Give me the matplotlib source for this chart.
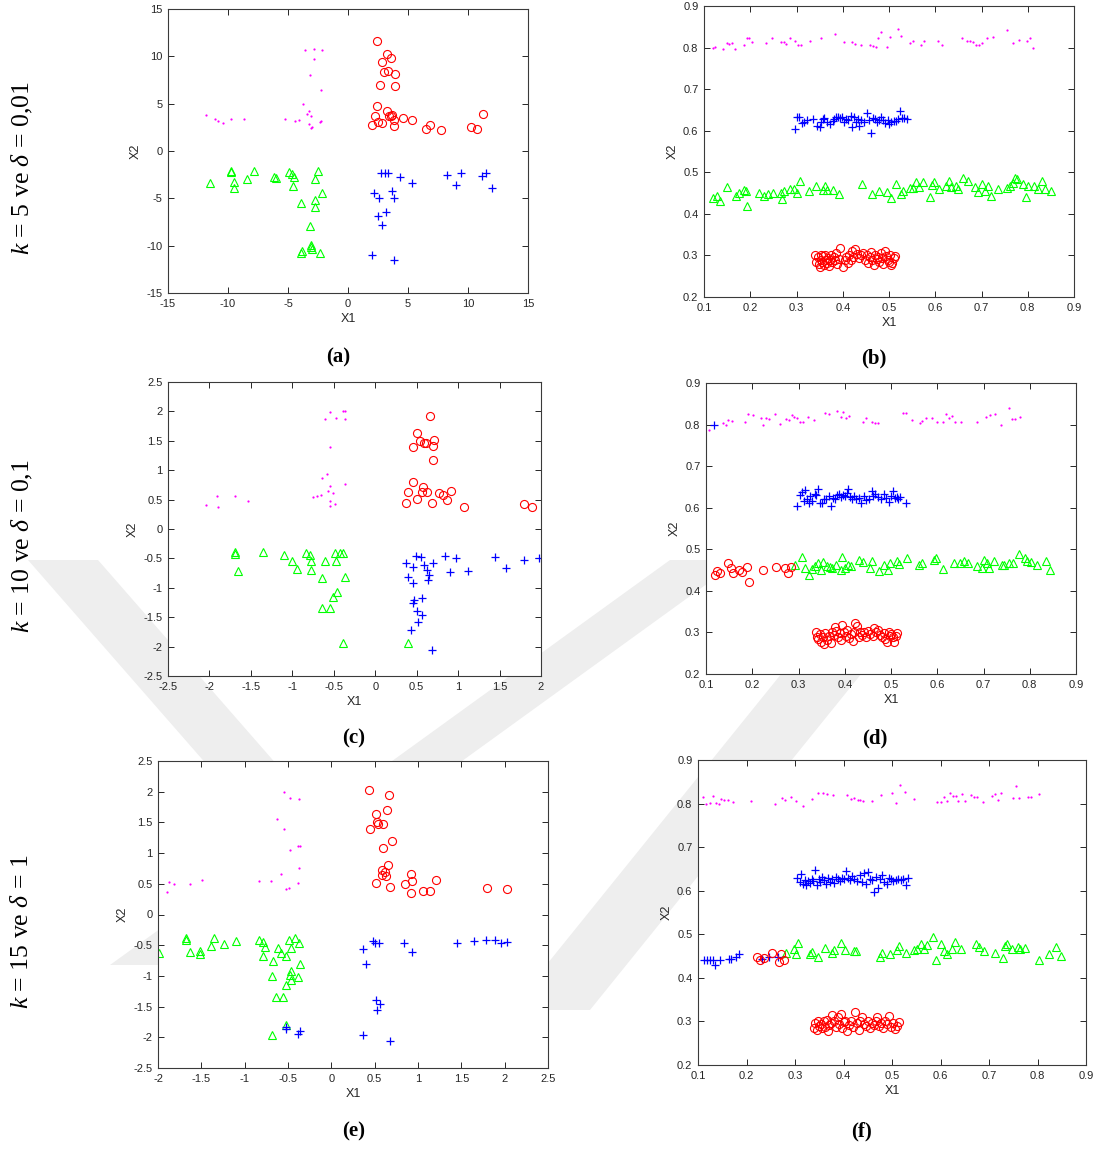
"""Six-panel scatter of four clusters for three (k, delta) settings."""

import matplotlib
matplotlib.use('Agg')
import matplotlib.pyplot as plt
from matplotlib.patches import Polygon

# ---- panel (a): k=5, delta=0.01, original scale ----
a_mag_x = [-11.8, -11.06, -10.83, -10.44, -9.78, -8.64, -5.22, -4.42, -4.06, -3.75,
           -3.56, -2.81, -2.17, -2.83, -3.19, -2.25, -3.28, -3.39, -3.06, -3.28,
           -3.0, -3.08, -2.31, -2.22]
a_mag_y = [3.84, 3.35, 3.17, 2.96, 3.38, 3.38, 3.42, 3.2, 3.24, 5.0,
           10.7, 10.81, 10.7, 9.68, 8.03, 6.41, 4.26, 3.87, 3.66, 2.85,
           2.5, 2.39, 3.1, 3.2]
a_red_x = [2.42, 3.25, 3.58, 2.86, 3.33, 2.97, 3.94, 2.69, 3.92, 2.44, 3.22, 2.22,
           3.42, 3.67, 3.56, 3.81, 2.5, 2.86, 2.0, 3.83, 4.61, 5.36, 6.47, 6.81,
           7.78, 10.25, 10.75, 11.22]
a_red_y = [11.58, 10.25, 9.82, 9.37, 8.49, 8.38, 8.13, 6.97, 6.87, 4.72, 4.23, 3.70,
           3.73, 3.8, 3.66, 3.24, 3.06, 2.99, 2.71, 2.68, 3.45, 3.27, 2.29, 2.71,
           2.22, 2.57, 2.29, 3.91]
a_grn_x = [-11.53, -9.72, -9.72, -9.47, -9.53, -8.39, -7.86, -6.14, -5.97, -4.94,
           -4.67, -4.53, -4.58, -3.94, -2.78, -2.53, -2.78, -2.75, -2.17, -3.14,
           -3.08, -3.06, -3.03, -3.94, -3.86, -2.36]
a_grn_y = [-3.42, -2.08, -2.25, -3.31, -3.91, -2.96, -2.08, -2.71, -2.89, -2.22,
           -2.46, -2.78, -3.66, -5.53, -2.92, -2.11, -5.14, -5.88, -4.44, -7.89,
           -9.89, -10.1, -10.35, -10.77, -10.56, -10.77]
a_blu_x = [2.72, 3.11, 3.31, 4.31, 5.31, 2.17, 2.58, 3.69, 3.86, 3.19, 2.5, 2.83,
           2.03, 3.83, 8.28, 9.42, 8.97, 11.17, 11.5, 11.97]
a_blu_y = [-2.32, -2.36, -2.32, -2.75, -3.38, -4.44, -4.96, -4.23, -4.96, -6.41,
           -6.9, -7.78, -10.99, -11.48, -2.57, -2.32, -3.56, -2.61, -2.36, -3.91]

# ---- panel (b): k=5, delta=0.01, normalised ----
b_mag_x = [0.119, 0.124, 0.142, 0.149, 0.154, 0.161, 0.167, 0.186, 0.192, 0.198,
           0.204, 0.235, 0.247, 0.266, 0.272, 0.278, 0.285, 0.297, 0.303, 0.309,
           0.329, 0.353, 0.383, 0.402, 0.421, 0.427, 0.440, 0.458, 0.465, 0.471,
           0.477, 0.483, 0.496, 0.502, 0.520, 0.527, 0.545, 0.552, 0.570, 0.576,
           0.607, 0.614, 0.658, 0.669, 0.676, 0.681, 0.688, 0.694, 0.700, 0.711,
           0.724, 0.755, 0.768, 0.780, 0.799, 0.804, 0.811]
b_mag_y = [0.799, 0.802, 0.797, 0.812, 0.809, 0.810, 0.797, 0.805, 0.822, 0.822,
           0.814, 0.812, 0.823, 0.813, 0.813, 0.809, 0.822, 0.817, 0.807, 0.807,
           0.816, 0.822, 0.832, 0.814, 0.814, 0.809, 0.806, 0.806, 0.804, 0.802,
           0.822, 0.838, 0.802, 0.825, 0.845, 0.827, 0.812, 0.817, 0.807, 0.817,
           0.816, 0.807, 0.822, 0.817, 0.816, 0.814, 0.806, 0.805, 0.810, 0.822,
           0.826, 0.842, 0.812, 0.818, 0.815, 0.823, 0.800]
b_blu_x = [0.297, 0.301, 0.305, 0.312, 0.316, 0.322, 0.335, 0.345, 0.350, 0.352,
           0.357, 0.360, 0.365, 0.372, 0.378, 0.381, 0.386, 0.390, 0.395, 0.398,
           0.402, 0.407, 0.412, 0.418, 0.421, 0.425, 0.428, 0.432, 0.436, 0.440,
           0.445, 0.452, 0.456, 0.462, 0.466, 0.470, 0.474, 0.478, 0.483, 0.488,
           0.492, 0.497, 0.501, 0.505, 0.510, 0.515, 0.520, 0.523, 0.528, 0.533,
           0.538]
b_blu_y = [0.604, 0.633, 0.632, 0.618, 0.620, 0.626, 0.627, 0.612, 0.609, 0.622,
           0.628, 0.631, 0.621, 0.615, 0.624, 0.628, 0.633, 0.632, 0.631, 0.633,
           0.622, 0.628, 0.625, 0.635, 0.610, 0.633, 0.620, 0.629, 0.612, 0.625,
           0.621, 0.643, 0.625, 0.595, 0.630, 0.627, 0.620, 0.625, 0.632, 0.625,
           0.619, 0.625, 0.617, 0.622, 0.624, 0.624, 0.627, 0.648, 0.630, 0.630,
           0.628]
b_grn_x = [0.119, 0.129, 0.135, 0.150, 0.170, 0.176, 0.186, 0.190, 0.194, 0.219,
           0.229, 0.238, 0.249, 0.268, 0.267, 0.273, 0.285, 0.294, 0.301, 0.308,
           0.327, 0.342, 0.358, 0.362, 0.365, 0.378, 0.392, 0.441, 0.464, 0.479,
           0.495, 0.504, 0.515, 0.525, 0.531, 0.545, 0.552, 0.558, 0.564, 0.573,
           0.588, 0.594, 0.597, 0.608, 0.624, 0.629, 0.633, 0.645, 0.649, 0.659,
           0.670, 0.687, 0.693, 0.701, 0.707, 0.714, 0.721, 0.736, 0.756, 0.762,
           0.769, 0.772, 0.776, 0.789, 0.796, 0.801, 0.814, 0.822, 0.830, 0.837,
           0.851]
b_grn_y = [0.439, 0.443, 0.430, 0.465, 0.443, 0.451, 0.457, 0.456, 0.420, 0.451,
           0.443, 0.448, 0.449, 0.436, 0.450, 0.455, 0.459, 0.459, 0.451, 0.479,
           0.454, 0.467, 0.457, 0.468, 0.457, 0.457, 0.448, 0.471, 0.447, 0.456,
           0.452, 0.438, 0.472, 0.448, 0.456, 0.463, 0.463, 0.476, 0.465, 0.476,
           0.440, 0.469, 0.476, 0.459, 0.468, 0.480, 0.464, 0.467, 0.459, 0.486,
           0.478, 0.465, 0.453, 0.472, 0.454, 0.467, 0.442, 0.459, 0.463, 0.467,
           0.475, 0.487, 0.484, 0.471, 0.441, 0.468, 0.467, 0.459, 0.480, 0.459,
           0.456]
b_red_x = [0.340, 0.342, 0.346, 0.349, 0.350, 0.352, 0.354, 0.356, 0.358, 0.360,
           0.362, 0.364, 0.366, 0.368, 0.370, 0.372, 0.374, 0.377, 0.380, 0.383,
           0.386, 0.388, 0.392, 0.395, 0.400, 0.404, 0.408, 0.411, 0.414, 0.417,
           0.420, 0.423, 0.427, 0.431, 0.435, 0.440, 0.444, 0.448, 0.452, 0.455,
           0.458, 0.461, 0.464, 0.467, 0.470, 0.473, 0.476, 0.479, 0.482, 0.485,
           0.488, 0.491, 0.494, 0.497, 0.500, 0.503, 0.505, 0.507, 0.510, 0.514]
b_red_y = [0.300, 0.284, 0.296, 0.280, 0.273, 0.302, 0.290, 0.284, 0.298, 0.276,
           0.301, 0.289, 0.282, 0.295, 0.275, 0.290, 0.300, 0.283, 0.296, 0.288,
           0.306, 0.280, 0.292, 0.318, 0.272, 0.288, 0.296, 0.281, 0.302, 0.290,
           0.310, 0.296, 0.316, 0.304, 0.294, 0.300, 0.305, 0.290, 0.302, 0.282,
           0.296, 0.308, 0.290, 0.278, 0.302, 0.292, 0.296, 0.285, 0.306, 0.294,
           0.280, 0.310, 0.298, 0.290, 0.284, 0.302, 0.276, 0.282, 0.294, 0.298]

# ---- panel (c): k=10, delta=0.1, original scale ----
c_mag_x = [-2.04, -1.91, -1.90, -1.69, -1.53, -0.61, -0.55, -0.47, -0.39, -0.37,
           -0.36, -0.55, -0.58, -0.64, -0.55, -0.57, -0.51, -0.75, -0.70, -0.65,
           -0.55, -0.55, -0.49, -0.37]
c_mag_y = [0.41, 0.56, 0.37, 0.56, 0.48, 1.87, 1.99, 1.88, 2.01, 2.01,
           1.87, 1.39, 0.94, 0.86, 0.73, 0.65, 0.62, 0.54, 0.56, 0.58,
           0.48, 0.39, 0.43, 0.76]
c_red_x = [0.66, 0.51, 0.54, 0.59, 0.61, 0.71, 0.70, 0.46, 0.70, 0.45, 0.40, 0.58,
           0.57, 0.63, 0.77, 0.82, 0.92, 0.51, 0.37, 0.68, 0.86, 1.07, 1.80, 1.89]
c_red_y = [1.93, 1.63, 1.49, 1.47, 1.47, 1.52, 1.41, 1.39, 1.18, 0.80, 0.63, 0.72,
           0.63, 0.63, 0.62, 0.58, 0.65, 0.51, 0.45, 0.44, 0.49, 0.38, 0.43, 0.38]
c_grn_x = [-1.69, -1.69, -1.65, -1.35, -1.10, -1.01, -0.94, -0.84, -0.79, -0.77,
           -0.78, -0.61, -0.64, -0.49, -0.47, -0.42, -0.39, -0.36, -0.46, -0.51,
           -0.64, -0.55, -0.39, 0.40]
c_grn_y = [-0.39, -0.43, -0.72, -0.39, -0.44, -0.54, -0.68, -0.41, -0.45, -0.54,
           -0.69, -0.55, -0.84, -0.41, -0.54, -0.40, -0.41, -0.82, -1.07, -1.16,
           -1.34, -1.34, -1.94, -1.94]
c_blu_x = [0.37, 0.49, 0.55, 0.45, 0.59, 0.70, 0.63, 0.65, 0.64, 0.40, 0.46, 0.84,
           0.98, 0.90, 1.12, 1.45, 1.58, 1.79, 1.97, 0.47, 0.45, 0.57, 0.50, 0.56,
           0.52, 0.43, 0.68]
c_blu_y = [-0.57, -0.46, -0.48, -0.65, -0.62, -0.58, -0.70, -0.78, -0.86, -0.82,
           -0.91, -0.46, -0.49, -0.73, -0.72, -0.48, -0.66, -0.53, -0.49, -1.21,
           -1.25, -1.17, -1.40, -1.47, -1.58, -1.72, -2.06]

# ---- panel (d): k=10, delta=0.1, normalised ----
d_mag_x = [0.106, 0.136, 0.143, 0.148, 0.156, 0.185, 0.191, 0.201, 0.218, 0.224,
           0.229, 0.236, 0.249, 0.260, 0.272, 0.279, 0.285, 0.290, 0.296, 0.303,
           0.310, 0.321, 0.334, 0.358, 0.366, 0.383, 0.391, 0.396, 0.402, 0.409,
           0.439, 0.446, 0.458, 0.465, 0.471, 0.525, 0.532, 0.545, 0.563, 0.568,
           0.575, 0.588, 0.600, 0.612, 0.619, 0.625, 0.632, 0.638, 0.651, 0.687,
           0.706, 0.713, 0.725, 0.737, 0.756, 0.762, 0.768, 0.779]
d_mag_y = [0.788, 0.804, 0.798, 0.811, 0.809, 0.806, 0.825, 0.824, 0.817, 0.800,
           0.815, 0.813, 0.825, 0.801, 0.814, 0.810, 0.823, 0.819, 0.817, 0.807,
           0.807, 0.818, 0.812, 0.828, 0.826, 0.833, 0.818, 0.831, 0.815, 0.821,
           0.806, 0.816, 0.807, 0.804, 0.804, 0.829, 0.829, 0.812, 0.804, 0.808,
           0.817, 0.815, 0.805, 0.807, 0.826, 0.815, 0.820, 0.807, 0.807, 0.806,
           0.818, 0.823, 0.826, 0.799, 0.841, 0.813, 0.813, 0.818]
d_blu_x = [0.117, 0.297, 0.303, 0.308, 0.312, 0.315, 0.318, 0.322, 0.325, 0.330,
           0.335, 0.338, 0.342, 0.346, 0.350, 0.355, 0.360, 0.365, 0.370, 0.374,
           0.378, 0.383, 0.388, 0.392, 0.396, 0.400, 0.404, 0.408, 0.412, 0.416,
           0.421, 0.425, 0.430, 0.436, 0.441, 0.446, 0.452, 0.458, 0.462, 0.466,
           0.472, 0.478, 0.484, 0.490, 0.496, 0.501, 0.505, 0.508, 0.512, 0.516,
           0.520, 0.533]
d_blu_y = [0.800, 0.604, 0.631, 0.638, 0.615, 0.642, 0.622, 0.611, 0.628, 0.617,
           0.634, 0.630, 0.646, 0.612, 0.611, 0.621, 0.620, 0.627, 0.604, 0.624,
           0.622, 0.630, 0.632, 0.625, 0.631, 0.628, 0.635, 0.645, 0.625, 0.621,
           0.628, 0.620, 0.624, 0.612, 0.627, 0.618, 0.622, 0.640, 0.628, 0.632,
           0.626, 0.620, 0.634, 0.624, 0.614, 0.628, 0.640, 0.623, 0.626, 0.622,
           0.626, 0.612]
d_grn_x = [0.292, 0.308, 0.315, 0.323, 0.329, 0.336, 0.342, 0.348, 0.353, 0.361,
           0.368, 0.373, 0.380, 0.391, 0.395, 0.401, 0.408, 0.413, 0.430, 0.440,
           0.455, 0.459, 0.473, 0.484, 0.493, 0.498, 0.514, 0.518, 0.535, 0.561,
           0.568, 0.593, 0.597, 0.613, 0.637, 0.649, 0.657, 0.667, 0.685, 0.696,
           0.701, 0.707, 0.712, 0.723, 0.739, 0.745, 0.756, 0.763, 0.776, 0.790,
           0.795, 0.803, 0.816, 0.835, 0.844]
d_grn_y = [0.461, 0.482, 0.454, 0.437, 0.453, 0.459, 0.467, 0.449, 0.470, 0.459,
           0.457, 0.454, 0.463, 0.450, 0.482, 0.456, 0.463, 0.460, 0.475, 0.469,
           0.456, 0.472, 0.448, 0.461, 0.450, 0.466, 0.473, 0.464, 0.478, 0.463,
           0.466, 0.474, 0.479, 0.452, 0.466, 0.466, 0.471, 0.466, 0.459, 0.455,
           0.474, 0.466, 0.455, 0.472, 0.461, 0.463, 0.466, 0.466, 0.488, 0.479,
           0.472, 0.469, 0.463, 0.471, 0.450]
d_red_x = [0.119, 0.124, 0.130, 0.148, 0.153, 0.158, 0.172, 0.177, 0.188, 0.193,
           0.223, 0.252, 0.270, 0.277, 0.283,
           0.337, 0.340, 0.343, 0.346, 0.349, 0.352, 0.355, 0.358, 0.362, 0.366,
           0.370, 0.373, 0.376, 0.379, 0.382, 0.386, 0.389, 0.392, 0.395, 0.398,
           0.402, 0.405, 0.409, 0.413, 0.417, 0.420, 0.423, 0.426, 0.430, 0.434,
           0.438, 0.442, 0.446, 0.451, 0.455, 0.460, 0.464, 0.468, 0.472, 0.476,
           0.480, 0.484, 0.488, 0.492, 0.495, 0.498, 0.501, 0.504, 0.507, 0.510,
           0.514]
d_red_y = [0.439, 0.447, 0.442, 0.467, 0.455, 0.442, 0.450, 0.446, 0.457, 0.421,
           0.449, 0.457, 0.455, 0.444, 0.458,
           0.300, 0.290, 0.284, 0.296, 0.276, 0.288, 0.272, 0.298, 0.282, 0.292,
           0.275, 0.300, 0.294, 0.312, 0.304, 0.288, 0.298, 0.282, 0.318, 0.300,
           0.292, 0.306, 0.286, 0.296, 0.280, 0.300, 0.322, 0.316, 0.290, 0.302,
           0.294, 0.300, 0.288, 0.304, 0.296, 0.292, 0.310, 0.300, 0.306, 0.294,
           0.288, 0.298, 0.284, 0.278, 0.300, 0.292, 0.296, 0.288, 0.276, 0.292,
           0.298]

# ---- panel (e): k=15, delta=1, original scale ----
e_mag_x = [-1.90, -1.87, -1.81, -1.63, -1.49, -0.84, -0.70, -0.58, -0.52, -0.49,
           -0.39, -0.37, -0.48, -0.38, -0.36, -0.55, -0.63, -0.55, -0.48, -0.37]
e_mag_y = [0.37, 0.53, 0.50, 0.49, 0.57, 0.55, 0.55, 0.66, 0.41, 0.43,
           0.52, 0.76, 1.05, 1.11, 1.11, 1.40, 1.55, 2.00, 1.89, 1.88]
e_red_x = [0.43, 0.66, 0.51, 0.64, 0.53, 0.54, 0.60, 0.45, 0.70, 0.60, 0.65, 0.58,
           0.62, 0.58, 0.63, 0.51, 0.68, 0.85, 0.92, 0.93, 0.92, 1.06, 1.14, 1.21,
           1.80, 2.03]
e_red_y = [2.03, 1.94, 1.63, 1.71, 1.50, 1.47, 1.48, 1.39, 1.19, 1.08, 0.80, 0.72,
           0.69, 0.64, 0.62, 0.52, 0.45, 0.49, 0.66, 0.54, 0.35, 0.39, 0.39, 0.57,
           0.43, 0.42]
e_grn_x = [-1.99, -1.68, -1.68, -1.63, -1.52, -1.51, -1.39, -1.35, -1.24, -1.10,
           -0.84, -0.79, -0.77, -0.79, -0.67, -0.62, -0.58, -0.52, -0.49, -0.42,
           -0.46, -0.37, -0.36, -0.68, -0.47, -0.48, -0.46, -0.39, -0.52, -0.64,
           -0.56, -0.52, -0.68]
e_grn_y = [-0.62, -0.38, -0.42, -0.61, -0.59, -0.65, -0.51, -0.38, -0.48, -0.43,
           -0.42, -0.44, -0.53, -0.67, -0.75, -0.55, -0.62, -0.67, -0.41, -0.39,
           -0.54, -0.47, -0.81, -1.00, -0.92, -0.98, -1.06, -1.01, -1.15, -1.34,
           -1.34, -1.80, -1.96]
e_blu_x = [0.37, 0.48, 0.50, 0.55, 0.84, 0.93, 0.40, 1.45, 1.65, 1.79, 1.89, 1.96,
           2.03, 0.51, 0.56, 0.53, 0.37, 0.68, -0.52, -0.52, -0.39, -0.36]
e_blu_y = [-0.57, -0.43, -0.46, -0.47, -0.46, -0.61, -0.81, -0.47, -0.43, -0.41,
           -0.42, -0.47, -0.45, -1.39, -1.46, -1.56, -1.97, -2.06, -1.84, -1.87,
           -1.95, -1.90]

# ---- panel (f): k=15, delta=1, normalised ----
f_mag_x = [0.110, 0.117, 0.124, 0.130, 0.137, 0.143, 0.148, 0.154, 0.161, 0.173,
           0.210, 0.259, 0.273, 0.280, 0.292, 0.303, 0.316, 0.335, 0.347, 0.358,
           0.365, 0.378, 0.408, 0.416, 0.421, 0.429, 0.434, 0.440, 0.458, 0.477,
           0.501, 0.508, 0.517, 0.526, 0.545, 0.593, 0.600, 0.607, 0.613, 0.619,
           0.625, 0.631, 0.637, 0.644, 0.650, 0.663, 0.669, 0.675, 0.687, 0.706,
           0.712, 0.718, 0.724, 0.749, 0.755, 0.761, 0.780, 0.786, 0.804]
f_mag_y = [0.815, 0.799, 0.802, 0.818, 0.801, 0.798, 0.811, 0.808, 0.809, 0.803,
           0.807, 0.800, 0.813, 0.809, 0.816, 0.807, 0.794, 0.811, 0.824, 0.824,
           0.823, 0.819, 0.820, 0.810, 0.813, 0.809, 0.809, 0.805, 0.805, 0.820,
           0.824, 0.802, 0.843, 0.827, 0.811, 0.803, 0.804, 0.814, 0.806, 0.824,
           0.818, 0.818, 0.805, 0.821, 0.806, 0.820, 0.814, 0.814, 0.804, 0.817,
           0.821, 0.808, 0.825, 0.812, 0.840, 0.812, 0.816, 0.815, 0.823]
f_blu_x = [0.112, 0.119, 0.125, 0.130, 0.136, 0.145, 0.163, 0.169, 0.179, 0.185,
           0.232, 0.246, 0.264,
           0.305, 0.310, 0.313, 0.316, 0.320, 0.323, 0.327, 0.331, 0.335, 0.338,
           0.341, 0.345, 0.349, 0.352, 0.356, 0.360, 0.364, 0.368, 0.372, 0.376,
           0.380, 0.384, 0.388, 0.392, 0.396, 0.400, 0.405, 0.410, 0.414, 0.418,
           0.422, 0.428, 0.434, 0.438, 0.443, 0.447, 0.451, 0.455, 0.459, 0.463,
           0.467, 0.471, 0.476, 0.480, 0.484, 0.489, 0.493, 0.498, 0.503, 0.508,
           0.513, 0.518, 0.523, 0.528, 0.533]
f_blu_y = [0.442, 0.441, 0.440, 0.440, 0.429, 0.441, 0.443, 0.444, 0.448, 0.454,
           0.444, 0.447, 0.448,
           0.630, 0.620, 0.638, 0.616, 0.625, 0.612, 0.622, 0.618, 0.628, 0.622,
           0.647, 0.614, 0.626, 0.620, 0.632, 0.624, 0.616, 0.630, 0.620, 0.626,
           0.618, 0.632, 0.628, 0.622, 0.630, 0.627, 0.646, 0.630, 0.624, 0.634,
           0.628, 0.622, 0.636, 0.620, 0.640, 0.615, 0.642, 0.628, 0.625, 0.596,
           0.632, 0.606, 0.628, 0.636, 0.620, 0.615, 0.630, 0.626, 0.622, 0.624,
           0.628, 0.624, 0.626, 0.614, 0.630]
f_grn_x = [0.282, 0.297, 0.302, 0.307, 0.330, 0.336, 0.347, 0.361, 0.376, 0.381,
           0.395, 0.404, 0.421, 0.426, 0.476, 0.480, 0.496, 0.510, 0.514, 0.529,
           0.546, 0.552, 0.559, 0.566, 0.573, 0.584, 0.590, 0.601, 0.608, 0.614,
           0.624, 0.630, 0.643, 0.673, 0.679, 0.689, 0.712, 0.728, 0.733, 0.737,
           0.748, 0.759, 0.764, 0.774, 0.803, 0.823, 0.838, 0.849]
f_grn_y = [0.457, 0.466, 0.455, 0.480, 0.455, 0.459, 0.448, 0.468, 0.457, 0.463,
           0.480, 0.464, 0.461, 0.462, 0.449, 0.458, 0.454, 0.463, 0.472, 0.456,
           0.464, 0.466, 0.478, 0.466, 0.475, 0.493, 0.441, 0.478, 0.462, 0.455,
           0.466, 0.483, 0.466, 0.478, 0.470, 0.461, 0.457, 0.446, 0.472, 0.478,
           0.466, 0.470, 0.466, 0.469, 0.441, 0.455, 0.470, 0.450]
f_red_x = [0.222, 0.227, 0.237, 0.253, 0.266, 0.271, 0.277,
           0.340, 0.342, 0.345, 0.348, 0.350, 0.353, 0.356, 0.359, 0.362, 0.365,
           0.368, 0.371, 0.374, 0.377, 0.380, 0.384, 0.388, 0.391, 0.394, 0.397,
           0.400, 0.404, 0.408, 0.412, 0.416, 0.420, 0.423, 0.427, 0.431, 0.435,
           0.438, 0.442, 0.446, 0.450, 0.454, 0.458, 0.462, 0.466, 0.470, 0.474,
           0.478, 0.482, 0.486, 0.490, 0.494, 0.498, 0.502, 0.506, 0.510, 0.514]
f_red_y = [0.449, 0.440, 0.446, 0.457, 0.437, 0.455, 0.442,
           0.286, 0.296, 0.280, 0.302, 0.290, 0.294, 0.284, 0.300, 0.288, 0.304,
           0.278, 0.292, 0.296, 0.314, 0.300, 0.288, 0.310, 0.294, 0.318, 0.284,
           0.298, 0.302, 0.278, 0.292, 0.300, 0.288, 0.322, 0.296, 0.280, 0.300,
           0.310, 0.294, 0.290, 0.300, 0.286, 0.296, 0.292, 0.302, 0.310, 0.290,
           0.296, 0.286, 0.300, 0.294, 0.312, 0.288, 0.296, 0.282, 0.290, 0.298]

row_titles = [r'$k$ = 5 ve $\delta$ = 0,01', r'$k$ = 10 ve $\delta$ = 0,1',
              r'$k$ = 15 ve $\delta$ = 1']
panel_tags = ['(a)', '(b)', '(c)', '(d)', '(e)', '(f)']

W, H = 1101, 1151
plt.rcParams['font.family'] = ['Liberation Sans', 'DejaVu Sans']
plt.rcParams['mathtext.fontset'] = 'custom'
plt.rcParams['mathtext.rm'] = 'Liberation Serif'
plt.rcParams['mathtext.it'] = 'Liberation Serif:italic'

fig = plt.figure(figsize=(W / 100, H / 100), dpi=100)

# faint background stripes behind the axes (pixel corners, y from the top)
stripes = [
    [(28, 560), (98, 560), (500, 1020), (430, 1020)],
    [(110, 965), (180, 965), (740, 560), (670, 560)],
    [(510, 1010), (590, 1010), (1050, 440), (970, 440)],
]
for pts in stripes:
    fig.patches.append(Polygon([(x / W, 1 - y / H) for x, y in pts],
                               closed=True, transform=fig.transFigure,
                               facecolor='#eeeeee', edgecolor='none', zorder=-10))


def px_axes(left, top, right, bottom):
    return fig.add_axes([left / W, 1 - bottom / H, (right - left) / W,
                         (bottom - top) / H])


def draw_panel(ax, red, grn, blu, mag, lims, ticks):
    ax.plot(*mag, linestyle='none', marker='.', color='#ff00ff', ms=3.2, mew=0)
    ax.plot(*grn, linestyle='none', marker='^', color='#00ff00', ms=6.2,
            mfc='none', mew=0.8)
    ax.plot(*blu, linestyle='none', marker='+', color='#0000ff', ms=6.2, mew=0.9)
    ax.plot(*red, linestyle='none', marker='o', color='#ff0000', ms=5.8,
            mfc='none', mew=0.8)
    ax.set_xlim(lims[0])
    ax.set_ylim(lims[1])
    ax.set_xticks(ticks[0])
    ax.set_yticks(ticks[1])
    ax.set_xticklabels(['%g' % t for t in ticks[0]])
    ax.set_yticklabels(['%g' % t for t in ticks[1]])
    ax.tick_params(direction='in', top=True, right=True, length=4, width=0.7,
                   labelsize=8, colors='#262626', pad=4)
    for s in ax.spines.values():
        s.set_color('#3a3a3a')
        s.set_linewidth(0.8)
    ax.set_xlabel('X1', fontsize=9, color='#262626', labelpad=3)
    ax.set_ylabel('X2', fontsize=9, color='#262626', labelpad=3)


raw5 = ([-15, 15], [-15, 15])
raw5_t = (list(range(-15, 20, 5)), list(range(-15, 20, 5)))
raw_small = ([-2.5, 2], [-2.5, 2.5])
raw_small_t = ([-2.5, -2, -1.5, -1, -0.5, 0, 0.5, 1, 1.5, 2],
               [-2.5, -2, -1.5, -1, -0.5, 0, 0.5, 1, 1.5, 2, 2.5])
raw_e = ([-2, 2.5], [-2.5, 2.5])
raw_e_t = ([-2, -1.5, -1, -0.5, 0, 0.5, 1, 1.5, 2, 2.5], raw_small_t[1])
norm = ([0.1, 0.9], [0.2, 0.9])
norm_t = ([0.1, 0.2, 0.3, 0.4, 0.5, 0.6, 0.7, 0.8, 0.9],
          [0.2, 0.3, 0.4, 0.5, 0.6, 0.7, 0.8, 0.9])

panels = [
    ((168, 9, 528, 293), (a_red_x, a_red_y), (a_grn_x, a_grn_y),
     (a_blu_x, a_blu_y), (a_mag_x, a_mag_y), raw5, raw5_t),
    ((704, 6, 1074, 297), (b_red_x, b_red_y), (b_grn_x, b_grn_y),
     (b_blu_x, b_blu_y), (b_mag_x, b_mag_y), norm, norm_t),
    ((168, 382, 541, 676), (c_red_x, c_red_y), (c_grn_x, c_grn_y),
     (c_blu_x, c_blu_y), (c_mag_x, c_mag_y), raw_small, raw_small_t),
    ((706, 383, 1076, 674), (d_red_x, d_red_y), (d_grn_x, d_grn_y),
     (d_blu_x, d_blu_y), (d_mag_x, d_mag_y), norm, norm_t),
    ((158, 761, 548, 1068), (e_red_x, e_red_y), (e_grn_x, e_grn_y),
     (e_blu_x, e_blu_y), (e_mag_x, e_mag_y), raw_e, raw_e_t),
    ((698, 760, 1086, 1065), (f_red_x, f_red_y), (f_grn_x, f_grn_y),
     (f_blu_x, f_blu_y), (f_mag_x, f_mag_y), norm, norm_t),
]
for box, red, grn, blu, mag, lims, ticks in panels:
    ax = px_axes(*box)
    ax.set_facecolor('white')
    draw_panel(ax, red, grn, blu, mag, lims, ticks)

# panel tags under each plot
tag_pos = [(338, 357), (874, 358), (354, 738), (875, 738), (354, 1131), (862, 1131)]
for tag, (x, y) in zip(panel_tags, tag_pos):
    fig.text(x / W, 1 - y / H, tag, ha='center', va='center',
             family='Liberation Serif', fontweight='bold', fontsize=15)

# row captions on the left
row_y = [168, 546, 932]
for title, y in zip(row_titles, row_y):
    fig.text(22 / W, 1 - y / H, title, rotation=90, ha='center', va='center',
             family='Liberation Serif', fontsize=18.5)

fig.savefig('out.png', dpi=100)
